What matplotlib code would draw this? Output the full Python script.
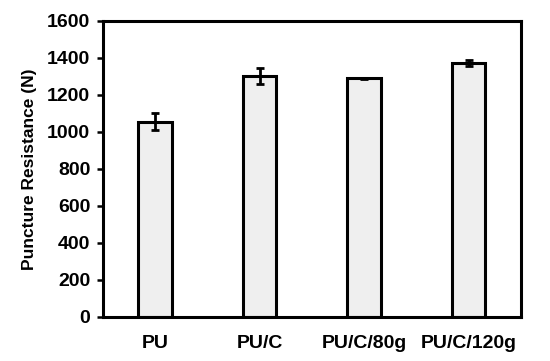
import numpy as np
import matplotlib
matplotlib.use('Agg')
import matplotlib.pyplot as plt

# Données
echantillons = ['PU', 'PU/C', 'PU/C/80g', 'PU/C/120g']
resistance = [1056, 1303, 1289, 1372]
erreur = [44, 45, 4, 16]

plt.rcParams['font.family'] = ['Liberation Sans', 'DejaVu Sans']
plt.rcParams['font.weight'] = 'bold'

fig = plt.figure(figsize=(5.5, 3.61), dpi=100)
ax = fig.add_axes([0.187, 0.122, 0.760, 0.82])

x = np.arange(len(echantillons))
ax.bar(x, resistance, width=0.32, color='#efefef', edgecolor='black', linewidth=2.2,
       yerr=erreur, error_kw=dict(ecolor='black', elinewidth=2, capsize=3, capthick=2))

ax.set_xlim(-0.5, 3.5)
ax.set_ylim(0, 1600)
ax.set_yticks(range(0, 1601, 200))
ax.set_xticks(x)
ax.set_xticklabels(echantillons, fontsize=14, fontweight='bold')
ax.tick_params(axis='x', length=0, pad=13)
ax.tick_params(axis='y', labelsize=14, width=1.8, length=4, pad=5)
for lbl in ax.get_yticklabels():
    lbl.set_fontweight('bold')
for s in ax.spines.values():
    s.set_linewidth(2.2)

ax.set_ylabel('Puncture Resistance (N)', fontsize=12.5, fontweight='bold', labelpad=7)

fig.savefig('out.png', dpi=100)
